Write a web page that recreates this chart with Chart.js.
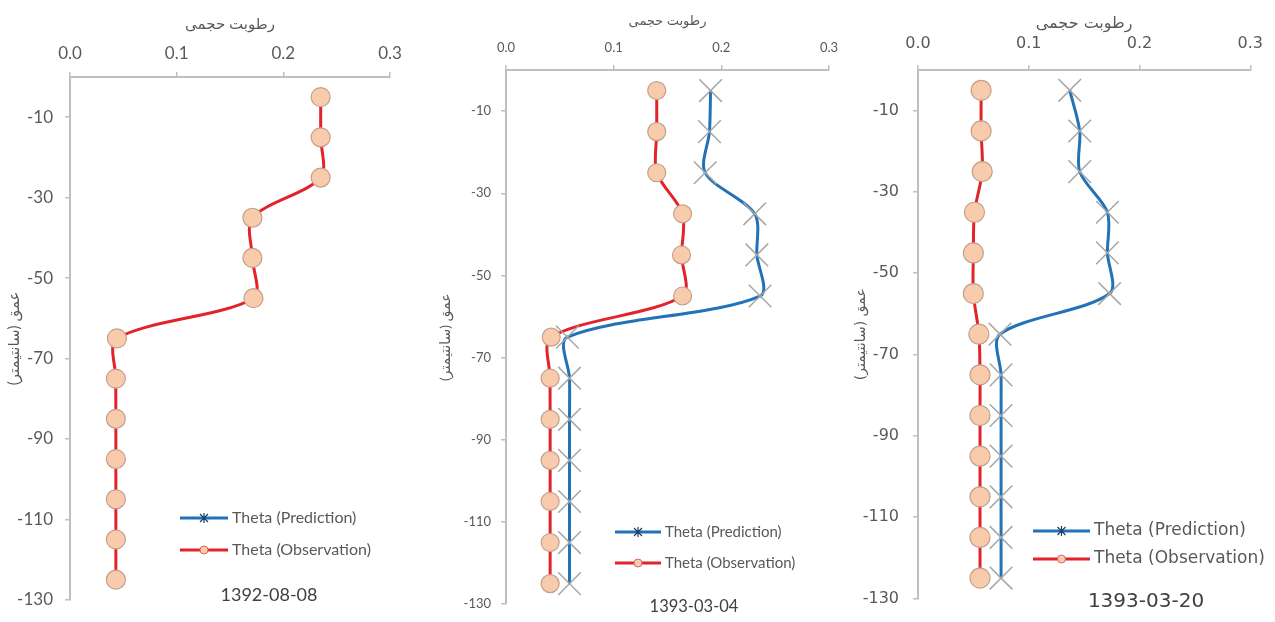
<!DOCTYPE html>
<html>
<head>
<meta charset="utf-8">
<script src="https://cdn.jsdelivr.net/npm/chart.js@4"></script>
<style>
  body { margin: 0; background: #fff; width: 1275px; height: 622px; overflow: hidden; position: relative; }
  .panel { position: absolute; top: 0; height: 622px; }
</style>
</head>
<body>
<div class="panel" style="left:0;width:420px"><canvas id="chart1"></canvas></div>
<div class="panel" style="left:420px;width:430px"><canvas id="chart2"></canvas></div>
<div class="panel" style="left:850px;width:425px"><canvas id="chart3"></canvas></div>
<script>
// depth of each sample (cm, negative downwards)
const depths = [-5, -15, -25, -35, -45, -55, -65, -75, -85, -95, -105, -115, -125];
const yTicks = [-10, -30, -50, -70, -90, -110, -130];
const xTicks = [0, 0.1, 0.2, 0.3];

// 1392-08-08
const obs1 = [0.235, 0.235, 0.235, 0.171, 0.171, 0.172, 0.044, 0.043, 0.043, 0.043, 0.043, 0.043, 0.043];
const pred1 = [];
// 1393-03-04
const obs2 = [0.140, 0.140, 0.140, 0.164, 0.163, 0.164, 0.042, 0.041, 0.041, 0.041, 0.041, 0.041, 0.041];
const pred2 = [0.190, 0.189, 0.185, 0.231, 0.233, 0.236, 0.057, 0.059, 0.059, 0.059, 0.059, 0.059, 0.059];
// 1393-03-20
const obs3 = [0.057, 0.057, 0.058, 0.051, 0.050, 0.050, 0.055, 0.056, 0.056, 0.056, 0.056, 0.056, 0.056];
const pred3 = [0.137, 0.146, 0.146, 0.171, 0.171, 0.173, 0.074, 0.075, 0.075, 0.075, 0.075, 0.075, 0.075];

const xTitle = 'رطوبت حجمی';
const yTitle = 'عمق (سانتیمتر)';
const predLabel = 'Theta (Prediction)';
const obsLabel = 'Theta (Observation)';

const BLUE = '#2272B8';
const RED = '#E3232A';
const AXIS = '#BFBFBF';
const TICK_TXT = '#595959';

function toPoints(values) {
    return values.map((v, i) => ({ x: v, y: depths[i] }));
}

// legend + date drawn inside the plot, like the original
const panelNotes = {
    id: 'panelNotes',
    afterDraw(chart, args, opts) {
        const ctx = chart.ctx;
        ctx.save();
        ctx.font = opts.font;
        ctx.textBaseline = 'middle';
        chart.data.datasets.forEach((ds, i) => {
            const y = opts.y + i * opts.gap;
            ctx.strokeStyle = ds.borderColor;
            ctx.lineWidth = 3;
            ctx.beginPath();
            ctx.moveTo(opts.x, y);
            ctx.lineTo(opts.x + opts.len, y);
            ctx.stroke();
            const cx = opts.x + opts.len / 2;
            if (ds.pointStyle === 'circle') {
                ctx.fillStyle = ds.pointBackgroundColor;
                ctx.strokeStyle = '#D46A5A';
                ctx.lineWidth = 1;
                ctx.beginPath();
                ctx.arc(cx, y, 4, 0, Math.PI * 2);
                ctx.fill();
                ctx.stroke();
            } else {
                ctx.strokeStyle = '#1B3F66';
                ctx.lineWidth = 1.2;
                ctx.beginPath();
                ctx.moveTo(cx - 4, y - 4); ctx.lineTo(cx + 4, y + 4);
                ctx.moveTo(cx + 4, y - 4); ctx.lineTo(cx - 4, y + 4);
                ctx.moveTo(cx, y - 5); ctx.lineTo(cx, y + 5);
                ctx.stroke();
            }
            ctx.fillStyle = TICK_TXT;
            ctx.textAlign = 'left';
            ctx.fillText(ds.label, opts.x + opts.len + 4, y);
        });
        ctx.font = opts.dateFont;
        ctx.fillStyle = '#404040';
        ctx.textAlign = 'center';
        ctx.fillText(opts.date, opts.dateX, opts.dateY);
        ctx.restore();
    }
};

function makeChart(id, obs, pred, cfg) {
    const tickFont = { family: cfg.family, size: cfg.tickSize };
    const titleFont = { family: cfg.family, size: cfg.titleSize };
    new Chart(document.getElementById(id).getContext('2d'), {
        type: 'scatter',
        data: {
            datasets: [{
                label: predLabel,
                data: toPoints(pred),
                showLine: true,
                borderColor: BLUE,
                borderWidth: 3,
                tension: 0.3,
                pointStyle: 'crossRot',
                pointRadius: 16,
                pointBorderColor: '#A6A6A6',
                pointBorderWidth: 1.5,
                pointBackgroundColor: 'rgba(0,0,0,0)'
            }, {
                label: obsLabel,
                data: toPoints(obs),
                showLine: true,
                borderColor: RED,
                borderWidth: 3,
                tension: 0.3,
                pointStyle: 'circle',
                pointRadius: cfg.markerRadius,
                pointBackgroundColor: '#F8CBAD',
                pointBorderColor: '#C4A08A',
                pointBorderWidth: 1.2
            }]
        },
        options: {
            responsive: true,
            maintainAspectRatio: false,
            animation: false,
            layout: { padding: { top: 0, left: 0, right: cfg.padRight, bottom: cfg.padBottom } },
            plugins: {
                legend: { display: false },
                tooltip: { enabled: false },
                panelNotes: cfg.notes
            },
            scales: {
                x: {
                    type: 'linear',
                    position: 'top',
                    min: 0,
                    max: 0.3,
                    afterBuildTicks: s => { s.ticks = xTicks.map(v => ({ value: v })); },
                    afterFit: s => { s.height = cfg.top; },
                    ticks: { color: TICK_TXT, font: tickFont, padding: cfg.xTickPad, callback: v => v.toFixed(1) },
                    grid: { display: true, drawOnChartArea: false, drawTicks: true, tickLength: 5, color: AXIS, lineWidth: 1.5 },
                    border: { display: true, color: AXIS, width: 2 },
                    title: { display: true, text: xTitle, color: TICK_TXT, font: titleFont, padding: { top: cfg.xTitleTop, bottom: 0 } }
                },
                y: {
                    type: 'linear',
                    min: -130,
                    max: 0,
                    afterBuildTicks: s => { s.ticks = yTicks.map(v => ({ value: v })); },
                    afterFit: s => { s.width = cfg.left; },
                    ticks: { color: TICK_TXT, font: tickFont, padding: cfg.yTickPad },
                    grid: { display: true, drawOnChartArea: false, drawTicks: true, tickLength: 5, color: AXIS, lineWidth: 1.5 },
                    border: { display: true, color: AXIS, width: 2 },
                    title: { display: true, text: yTitle, color: TICK_TXT, font: { family: cfg.family, size: cfg.yTitleSize }, padding: { top: cfg.yTitleLeft, bottom: 0 } }
                }
            }
        },
        plugins: [panelNotes]
    });
}

makeChart('chart1', obs1, pred1, {
    family: 'Lato, "DejaVu Sans"', tickSize: 17, titleSize: 15, yTitleSize: 15, markerRadius: 9.5,
    left: 70, top: 77, padRight: 30, padBottom: 10, xTickPad: 8, yTickPad: 12, xTitleTop: 15, yTitleLeft: 5,
    notes: { x: 180, y: 518, gap: 32, len: 48, font: '16px Lato, "DejaVu Sans"',
             date: '1392-08-08', dateX: 269, dateY: 595, dateFont: '18px Lato, "DejaVu Sans"' }
});
makeChart('chart2', obs2, pred2, {
    family: 'Lato, "DejaVu Sans"', tickSize: 13, titleSize: 13, yTitleSize: 14, markerRadius: 9,
    left: 86, top: 70, padRight: 21, padBottom: 7, xTickPad: 9, yTickPad: 10, xTitleTop: 13, yTitleLeft: 17,
    notes: { x: 195, y: 532, gap: 31, len: 46, font: '15px Lato, "DejaVu Sans"',
             date: '1393-03-04', dateX: 274, dateY: 607, dateFont: '16.5px Lato, "DejaVu Sans"' }
});
makeChart('chart3', obs3, pred3, {
    family: '"DejaVu Sans"', tickSize: 16, titleSize: 16, yTitleSize: 14, markerRadius: 10,
    left: 68, top: 70, padRight: 16, padBottom: 10, xTickPad: 12, yTickPad: 14, xTitleTop: 14, yTitleLeft: 3,
    notes: { x: 183, y: 531, gap: 28, len: 57, font: '17px "DejaVu Sans"',
             date: '1393-03-20', dateX: 296, dateY: 602, dateFont: '20px "DejaVu Sans"' }
});
</script>
</body>
</html>
